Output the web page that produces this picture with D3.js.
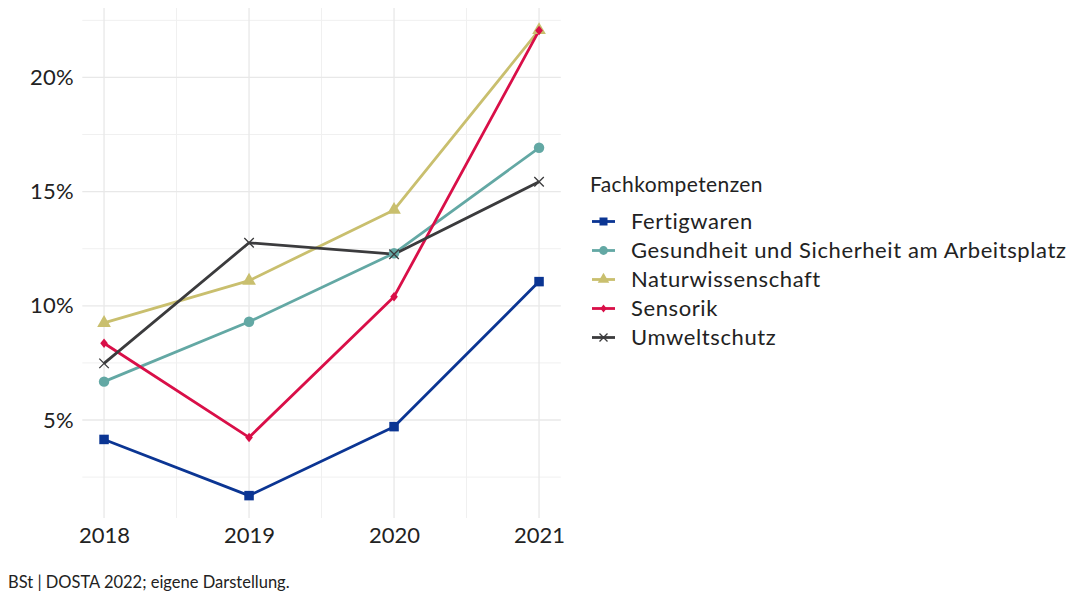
<!DOCTYPE html>
<html><head><meta charset="utf-8">
<script src="https://cdn.jsdelivr.net/npm/d3@7"></script>
<style>body{margin:0;background:#fff;font-family:Lato,sans-serif;}</style>
</head><body><svg id="c" width="1078" height="595"></svg>
<script>
const years = [2018, 2019, 2020, 2021];
const seriesNames = ["Fertigwaren","Gesundheit und Sicherheit am Arbeitsplatz","Naturwissenschaft","Sensorik","Umweltschutz"];
const fertigwaren = [4.15, 1.69, 4.71, 11.06];
const gesundheit = [6.68, 9.30, 12.30, 16.92];
const naturwissenschaft = [9.25, 11.1, 14.2, 22.07];
const sensorik = [8.36, 4.24, 10.40, 22.05];
const umweltschutz = [7.48, 12.76, 12.26, 15.43];
const colors = ["#0b3593","#63a8a4","#c9bf6e","#d90f48","#3b3b3d"];
const shapes = ["square","circle","triangle","diamond","cross"];
const yTicks = [5,10,15,20];
const legendTitle = "Fachkompetenzen";
const caption = "BSt | DOSTA 2022; eigene Darstellung.";

const values = [fertigwaren, gesundheit, naturwissenschaft, sensorik, umweltschutz];
const svg = d3.select("#c");
const x = d3.scaleLinear().domain([2017.85, 2021.15]).range([82.3, 560.8]);
const y = d3.scaleLinear().domain([0.71, 23.04]).range([518, 8]);

const g = svg.append("g");
const minorX = [2018.5, 2019.5, 2020.5];
const minorY = [2.5, 7.5, 12.5, 17.5, 22.5];
g.selectAll(".mx").data(minorX).enter().append("line")
 .attr("x1", d=>x(d)).attr("x2", d=>x(d)).attr("y1", 8).attr("y2", 518)
 .attr("stroke", "#f0f0f0").attr("stroke-width", 1);
g.selectAll(".my").data(minorY).enter().append("line")
 .attr("y1", d=>y(d)).attr("y2", d=>y(d)).attr("x1", 82.3).attr("x2", 560.8)
 .attr("stroke", "#f0f0f0").attr("stroke-width", 1);
g.selectAll(".Mx").data(years).enter().append("line")
 .attr("x1", d=>x(d)).attr("x2", d=>x(d)).attr("y1", 8).attr("y2", 518)
 .attr("stroke", "#e8e8e8").attr("stroke-width", 1.3);
g.selectAll(".My").data(yTicks).enter().append("line")
 .attr("y1", d=>y(d)).attr("y2", d=>y(d)).attr("x1", 82.3).attr("x2", 560.8)
 .attr("stroke", "#e8e8e8").attr("stroke-width", 1.3);

const xAxis = d3.axisBottom(x).tickValues(years).tickFormat(d3.format("d")).tickSize(0).tickPadding(0);
const xa = svg.append("g").attr("transform", "translate(0,527.5)").call(xAxis);
xa.select(".domain").remove();
xa.selectAll("text").attr("font-family","Lato").attr("font-size", 22).attr("fill","#222").attr("dy","0.71em");
const yAxis = d3.axisLeft(y).tickValues(yTicks).tickFormat(d=>d+"%").tickSize(0).tickPadding(0);
const ya = svg.append("g").attr("transform", "translate(74,0)").call(yAxis);
ya.select(".domain").remove();
ya.selectAll("text").attr("font-family","Lato").attr("font-size", 22).attr("letter-spacing", 0.3).attr("fill","#222");

function marker(sel, shape, color, size) {
  const s = size;
  if (shape === "square") sel.append("rect").attr("x",-s*0.5).attr("y",-s*0.5).attr("width",s).attr("height",s).attr("fill",color);
  else if (shape === "circle") sel.append("circle").attr("r", s*0.55).attr("fill", color);
  else if (shape === "triangle") sel.append("path").attr("d", d3.symbol(d3.symbolTriangle, s*s*0.9)()).attr("fill", color);
  else if (shape === "diamond") sel.append("path").attr("d", `M0,${-s*0.5}L${s*0.4},0L0,${s*0.5}L${-s*0.4},0Z`).attr("fill", color);
  else if (shape === "cross") sel.append("path").attr("d", `M${-s*0.5},${-s*0.5}L${s*0.5},${s*0.5}M${-s*0.5},${s*0.5}L${s*0.5},${-s*0.5}`).attr("stroke", color).attr("stroke-width", 1.3).attr("fill","none");
}

const line = d3.line().x((d,i)=>x(years[i])).y(d=>y(d));
values.forEach((vals, k) => {
  svg.append("path").datum(vals).attr("d", line).attr("fill","none")
    .attr("stroke", colors[k]).attr("stroke-width", 2.8).attr("stroke-linejoin","round");
});
values.forEach((vals, k) => {
  vals.forEach((v,i) => {
    const m = svg.append("g").attr("transform", `translate(${x(years[i])},${y(v)})`);
    marker(m, shapes[k], colors[k], 9.5);
  });
});

const lg = svg.append("g");
lg.append("text").attr("x", 590).attr("y", 192).attr("font-family","Lato").attr("font-size", 21).attr("letter-spacing", 0.4).attr("fill","#222").text(legendTitle);
seriesNames.forEach((n,k) => {
  const cy = 221.5 + k*29;
  lg.append("line").attr("x1",592).attr("x2",615).attr("y1",cy).attr("y2",cy).attr("stroke",colors[k]).attr("stroke-width",2.8);
  const m = lg.append("g").attr("transform", `translate(603.5,${cy})`);
  marker(m, shapes[k], colors[k], 8);
  lg.append("text").attr("x", 631).attr("y", cy).attr("dy","0.35em").attr("font-family","Lato").attr("font-size", 22).attr("letter-spacing", 0.6).attr("fill","#222").text(n);
});

svg.append("text").attr("x", 8).attr("y", 588).attr("font-family","Lato").attr("font-size", 16.5).attr("fill","#222").text(caption);
</script></body></html>
